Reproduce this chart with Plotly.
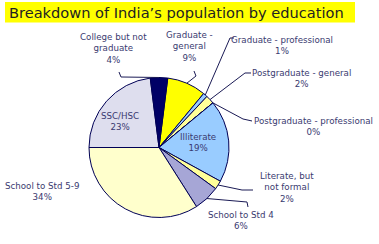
import math
import plotly.graph_objects as go

# ---- data ----
categories = ["Graduate - general", "Graduate - professional", "Postgraduate - general",
              "Postgraduate - professional", "Illiterate", "Literate, but not formal",
              "School to Std 4", "School to Std 5-9", "SSC/HSC", "College but not graduate"]
values = [9, 1, 2, 0, 19, 2, 6, 34, 23, 4]
label_texts = ["Graduate -<br>general<br>9%", "Graduate - professional<br>1%",
               "Postgraduate - general<br>2%", "Postgraduate - professional<br>0%",
               "Illiterate<br>19%", "Literate, but<br>not formal<br>2%",
               "School to Std 4<br>6%", "School to Std 5-9<br>34%", "SSC/HSC<br>23%",
               "College but not<br>graduate<br>4%"]
colors = ["#FFFF00", "#99CCFF", "#FFFF99", "#FFFF99", "#99CCFF", "#FFFF99",
          "#A6A6D6", "#FFFFCC", "#DEDEEE", "#000066"]
title_text = "Breakdown of India\u2019s population by education"

# ---- layout geometry (pixels) ----
W, H = 379, 244
CX, CY, R = 159, 147.5, 70
ROT = 7.2

def px(x):
    return x / W

def py(y):
    return 1 - y / H

# label centres and leader elbows (pixel coords), per category index
label_pos = {
    0: (189, 46), 1: (282, 45), 2: (301, 78.5), 3: (313, 127),
    4: (198, 142.5), 5: (287, 187), 6: (241, 220.5), 7: (42, 191.5),
    8: (120, 121.5), 9: (113, 49),
}
leader_pts = {
    0: [(196, 76), (194, 71)],
    1: [(230, 38), (234, 38)],
    2: [(245, 73), (251, 73)],
    3: [(243, 119), (252, 121)],
    5: [(242, 190), (253, 190)],
    6: [(247, 202), (248, 207)],
    9: [(121, 77), (119, 72)],
}

fig = go.Figure(go.Pie(
    labels=categories, values=values, sort=False, direction="clockwise",
    rotation=ROT, marker=dict(colors=colors, line=dict(color="#000055", width=1)),
    textinfo="none", hoverinfo="label+percent", showlegend=False,
    domain=dict(x=[px(CX - R), px(CX + R)], y=[py(CY + R), py(CY - R)]),
))

total = sum(values)
shapes = []
annotations = []
cum = 0
for i, v in enumerate(values):
    mid = ROT + (cum + v / 2) / total * 360
    cum += v
    a = math.radians(mid)
    sx, sy = CX + R * math.sin(a), CY - R * math.cos(a)
    if i in leader_pts:
        pts = [(sx, sy)] + leader_pts[i]
        path = "M " + " L ".join(f"{px(x):.5f},{py(y):.5f}" for x, y in pts)
        shapes.append(dict(type="path", xref="paper", yref="paper", path=path,
                           line=dict(color="#1a1a55", width=1)))
    lx, ly = label_pos[i]
    annotations.append(dict(x=px(lx), y=py(ly), xref="paper", yref="paper",
                            text=label_texts[i], showarrow=False, align="center",
                            xanchor="center", yanchor="middle",
                            font=dict(family="DejaVu Sans", size=8.7, color="#3a3a70")))

# title highlight box
shapes.append(dict(type="rect", xref="paper", yref="paper", x0=px(5), x1=px(355),
                   y0=py(22.5), y1=py(2), fillcolor="#FFFF00", line=dict(width=0),
                   layer="below"))
annotations.append(dict(x=px(7), y=py(12.5), xref="paper", yref="paper",
                        text=title_text, showarrow=False, xanchor="left", yanchor="middle",
                        font=dict(family="DejaVu Sans", size=14.6, color="#222222")))

fig.update_layout(width=W, height=H, margin=dict(l=0, r=0, t=0, b=0),
                  paper_bgcolor="white", plot_bgcolor="white",
                  shapes=shapes, annotations=annotations)
fig.write_html("out.html")
